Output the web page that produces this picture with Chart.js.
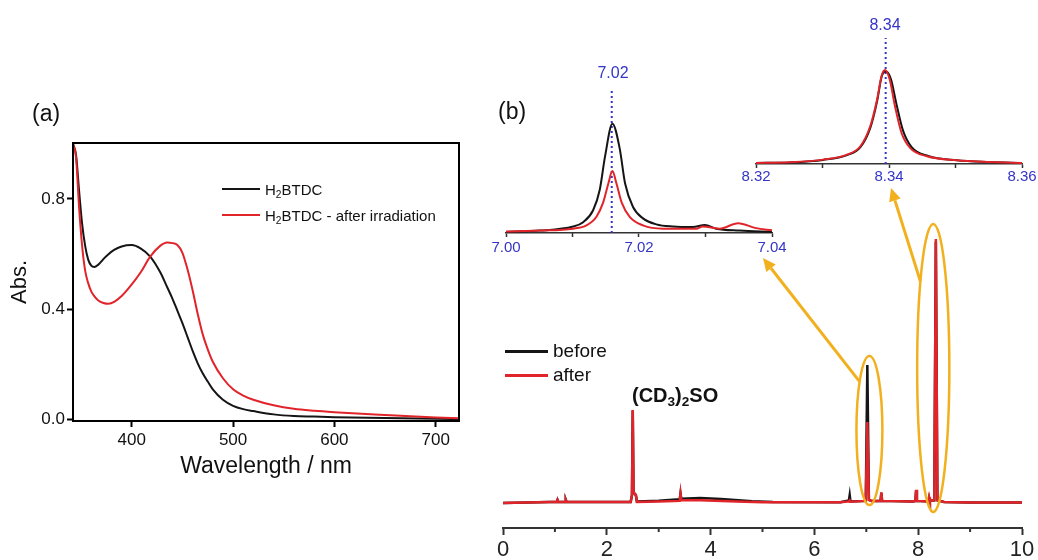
<!DOCTYPE html>
<html>
<head>
<meta charset="utf-8">
<script src="https://cdn.jsdelivr.net/npm/chart.js@4.4.1/dist/chart.umd.min.js"></script>
<style>
  html,body{margin:0;padding:0;background:#fff;}
  body{width:1038px;height:560px;position:relative;overflow:hidden;font-family:"Liberation Sans",Arial,sans-serif;color:#111;}
  canvas{position:absolute;}
  .lbl{position:absolute;line-height:1;white-space:nowrap;transform:translateY(-50%);}
  .ctr{transform:translate(-50%,-50%);}
  sub{font-size:68%;vertical-align:baseline;position:relative;top:0.32em;line-height:0;}
  .legend{position:absolute;}
  .legend .row{display:flex;align-items:center;white-space:nowrap;}
  .legend .sw{display:inline-block;}
</style>
</head>
<body>
<canvas id="uv" width="480" height="490" style="left:0;top:0"></canvas>
<canvas id="nmr" width="558" height="410" style="left:480px;top:150px"></canvas>
<canvas id="ins1" width="330" height="205" style="left:460px;top:60px"></canvas>
<canvas id="ins2" width="310" height="190" style="left:730px;top:10px"></canvas>
<canvas id="overlay" width="1038" height="560" style="left:0;top:0;pointer-events:none"></canvas>

<div class="lbl" style="left:32px;top:113px;font-size:23px">(a)</div>
<div class="lbl" style="left:498px;top:111px;font-size:23px">(b)</div>
<div class="lbl" id="dmso" style="left:632px;top:395px;font-size:20px;font-weight:bold"></div>
<div class="lbl ctr" style="left:613px;top:73px;font-size:16px;color:#3434c8">7.02</div>
<div class="lbl ctr" style="left:885px;top:25px;font-size:16px;color:#3434c8">8.34</div>
<div class="legend" id="legA" style="left:222px;top:176px"></div>
<div class="legend" id="legB" style="left:505px;top:339px"></div>

<script>
// ---- panel (a) : UV-vis ----
const wavelengths = [342, 345, 348, 351, 354, 357, 360, 363, 367, 372, 377, 383, 390, 400, 409, 418, 428, 435, 440, 445, 450, 455, 460, 465, 470, 475, 480, 490, 500, 510, 520, 540, 560, 580, 600, 650, 700, 723];
const absBefore = [1.0, 0.96, 0.83, 0.71, 0.63, 0.58, 0.558, 0.553, 0.562, 0.582, 0.60, 0.616, 0.628, 0.633, 0.62, 0.592, 0.535, 0.48, 0.44, 0.395, 0.35, 0.30, 0.25, 0.205, 0.168, 0.138, 0.11, 0.072, 0.05, 0.038, 0.031, 0.019, 0.013, 0.011, 0.009, 0.006, 0.003, 0.002];
const absAfter = [1.0, 0.95, 0.77, 0.63, 0.54, 0.495, 0.465, 0.448, 0.432, 0.423, 0.42, 0.428, 0.448, 0.49, 0.535, 0.59, 0.63, 0.642, 0.64, 0.633, 0.605, 0.545, 0.47, 0.385, 0.31, 0.255, 0.21, 0.15, 0.11, 0.087, 0.072, 0.052, 0.039, 0.032, 0.027, 0.017, 0.008, 0.005];
const uvXTicks = [400, 500, 600, 700];
const uvYTicks = [0, 0.4, 0.8];
const uvLabels = ['H2BTDC', 'H2BTDC - after irradiation'];

// ---- panel (b) : 1H NMR, full range ----
const nmrBeforePpm = [0, 0.9, 1.035, 1.05, 1.065, 1.195, 1.21, 1.225, 2.46, 2.485, 2.50, 2.515, 2.56, 2.58, 3.0, 3.405, 3.42, 3.435, 3.8, 4.2, 4.8, 5.2, 6.5, 6.665, 6.68, 6.695, 6.99, 7.02, 7.05, 7.1, 7.275, 7.29, 7.305, 7.9, 7.945, 7.96, 7.975, 8.195, 8.21, 8.225, 8.31, 8.34, 8.37, 8.5, 9.0, 10];
const nmrBeforeInt = [0, 0.004, 0.004, 0.012, 0.004, 0.004, 0.012, 0.004, 0.004, 0.03, 0.35, 0.04, 0.03, 0.006, 0.009, 0.014, 0.036, 0.016, 0.019, 0.015, 0.007, 0.004, 0.003, 0.01, 0.03, 0.006, 0.008, 0.523, 0.012, 0.008, 0.008, 0.038, 0.008, 0.006, 0.008, 0.048, 0.008, 0.006, 0.02, 0.008, 0.01, 0.99, 0.01, 0.004, 0.002, 0.002];
const nmrAfterPpm = [0, 0.9, 1.035, 1.05, 1.065, 1.195, 1.21, 1.225, 2.46, 2.485, 2.50, 2.515, 2.56, 2.58, 3.0, 3.405, 3.42, 3.435, 3.8, 4.5, 5.0, 6.5, 6.665, 6.68, 6.695, 6.99, 7.02, 7.05, 7.1, 7.275, 7.29, 7.305, 7.9, 7.945, 7.96, 7.975, 8.195, 8.21, 8.225, 8.31, 8.34, 8.37, 8.5, 9.0, 10];
const nmrAfterInt = [0, 0.004, 0.004, 0.012, 0.004, 0.004, 0.012, 0.004, 0.004, 0.03, 0.352, 0.04, 0.03, 0.004, 0.006, 0.008, 0.036, 0.01, 0.01, 0.006, 0.003, 0.003, 0.006, 0.01, 0.005, 0.008, 0.307, 0.012, 0.008, 0.008, 0.04, 0.008, 0.006, 0.008, 0.05, 0.008, 0.006, 0.022, 0.008, 0.01, 1.0, 0.01, 0.004, 0.002, 0.002];
const nmrXTicks = [0, 2, 4, 6, 8, 10];
const nmrMinor = [1, 3, 5, 7, 9];
const nmrLabels = ['before', 'after'];

// ---- inset 7.00 - 7.04 ----
const in1BeforePpm = [7.0000, 7.0051, 7.0101, 7.0116, 7.0131, 7.0141, 7.0149, 7.0160, 7.0171, 7.0179, 7.0191, 7.0206, 7.0226, 7.0251, 7.0281, 7.0299, 7.0316, 7.0351, 7.0400];
const in1BeforeInt = [0, 0.012, 0.05, 0.09, 0.2, 0.39, 0.7, 1.0, 0.77, 0.45, 0.23, 0.125, 0.07, 0.05, 0.045, 0.065, 0.03, 0.012, 0];
const in1AfterPpm = [7.0000, 7.0051, 7.0101, 7.0121, 7.0136, 7.0146, 7.0154, 7.0160, 7.0166, 7.0174, 7.0186, 7.0206, 7.0236, 7.0286, 7.0296, 7.0321, 7.0349, 7.0376, 7.0400];
const in1AfterInt = [0.005, 0.012, 0.03, 0.06, 0.14, 0.27, 0.45, 0.5625, 0.45, 0.27, 0.14, 0.06, 0.03, 0.03, 0.05, 0.03, 0.08, 0.035, 0.015];
const in1Ticks = [7.00, 7.02, 7.04];
const in1Minor = [7.01, 7.03];
const in1Mark = 7.0159;

// ---- inset 8.32 - 8.36 ----
const in2BeforePpm = [8.3200, 8.3251, 8.3301, 8.3337, 8.3357, 8.3372, 8.3382, 8.3389, 8.3396, 8.3403, 8.3411, 8.3421, 8.3434, 8.3459, 8.3502, 8.3552, 8.3600];
const in2BeforeInt = [0, 0.006, 0.033, 0.085, 0.17, 0.38, 0.66, 0.93, 0.985, 0.90, 0.64, 0.35, 0.17, 0.075, 0.03, 0.011, 0];
const in2AfterPpm = [8.3200, 8.3251, 8.3301, 8.3337, 8.3357, 8.3372, 8.3382, 8.3389, 8.3394, 8.3401, 8.3409, 8.3419, 8.3432, 8.3457, 8.3502, 8.3552, 8.3600];
const in2AfterInt = [0, 0.007, 0.036, 0.09, 0.18, 0.40, 0.68, 0.94, 1.0, 0.90, 0.61, 0.32, 0.16, 0.072, 0.029, 0.011, 0];
const in2Ticks = [8.32, 8.34, 8.36];
const in2Minor = [8.33, 8.35];
const in2Mark = 8.3395;

const BLACK = '#151515', RED = '#e0242a', BLUE = '#3434c8', GOLD = '#f2b01e';
Chart.defaults.font.family = '"Liberation Sans", Arial, sans-serif';
Chart.defaults.color = '#111';

function pts(xs, ys){ return xs.map((x, i) => ({x: x, y: ys[i]})); }
function fmt(s){ return s.replace(/([A-Z)])(\d)/g, '$1<sub>$2</sub>'); }

// minor tick marks below an x axis
const minorTicks = {
  id: 'minorTicks',
  afterDraw(chart, args, o){
    if(!o || !o.values) return;
    const s = chart.scales.x, c = chart.ctx;
    c.save(); c.strokeStyle = o.color; c.lineWidth = o.width;
    o.values.forEach(v => {
      const px = s.getPixelForValue(v);
      c.beginPath(); c.moveTo(px, s.top); c.lineTo(px, s.top + o.length); c.stroke();
    });
    c.restore();
  }
};
// box around plot area (panel a)
const frame = {
  id: 'frame',
  afterDraw(chart){
    const a = chart.chartArea, c = chart.ctx;
    c.save(); c.strokeStyle = '#000'; c.lineWidth = 2;
    c.strokeRect(a.left, a.top, a.right - a.left, a.bottom - a.top);
    c.restore();
  }
};

const base = {
  responsive: false, animation: false, devicePixelRatio: 1, events: [],
  plugins: { legend: { display: false }, tooltip: { enabled: false } }
};

// ---- chart (a) ----
const uvChart = new Chart(document.getElementById('uv'), {
  type: 'line',
  data: { datasets: [
    { label: uvLabels[0], data: pts(wavelengths, absBefore), borderColor: BLACK, borderWidth: 2, pointRadius: 0, cubicInterpolationMode: 'monotone', order: 1 },
    { label: uvLabels[1], data: pts(wavelengths, absAfter), borderColor: RED, borderWidth: 2, pointRadius: 0, cubicInterpolationMode: 'monotone', order: 0 }
  ]},
  options: Object.assign({}, base, {
    layout: { padding: { top: 143, right: 21, left: 0, bottom: 0 } },
    scales: {
      x: {
        type: 'linear', min: 342, max: 723,
        afterBuildTicks: s => { s.ticks = uvXTicks.map(v => ({ value: v })); },
        afterFit: s => { s.height = 69; },
        grid: { drawOnChartArea: false, drawTicks: true, tickLength: 6, tickColor: '#000', tickWidth: 2 },
        border: { display: true, color: '#000', width: 2 },
        ticks: { font: { size: 17 }, padding: 3, maxRotation: 0, callback: v => v },
        title: { display: true, text: 'Wavelength / nm', font: { size: 23 }, padding: { top: 0, bottom: 10 } }
      },
      y: {
        type: 'linear', min: -0.005, max: 1.003,
        afterBuildTicks: s => { s.ticks = uvYTicks.map(v => ({ value: v })); },
        afterFit: s => { s.width = 73; },
        grid: { drawOnChartArea: false, drawTicks: true, tickLength: 6, tickColor: '#000', tickWidth: 2 },
        border: { display: true, color: '#000', width: 2 },
        ticks: { font: { size: 17 }, padding: 2, callback: v => v.toFixed(1) },
        title: { display: true, text: 'Abs.', font: { size: 22 }, padding: { top: 7, bottom: 0 } }
      }
    }
  }),
  plugins: [frame]
});

// ---- chart (b) main spectrum ----
function nmrXAxis(opts){
  return {
    type: 'linear', min: opts.min, max: opts.max,
    afterBuildTicks: s => { s.ticks = opts.ticks.map(v => ({ value: v })); },
    afterFit: s => { s.height = opts.h; },
    grid: { drawOnChartArea: false, drawTicks: true, tickLength: opts.tl, tickColor: '#333', tickWidth: opts.bw },
    border: { display: true, color: '#333', width: opts.bw },
    ticks: { font: { size: opts.fs }, color: opts.color, padding: opts.pad, maxRotation: 0, callback: opts.cb }
  };
}

const nmrChart = new Chart(document.getElementById('nmr'), {
  type: 'line',
  data: { datasets: [
    { label: nmrLabels[0], data: pts(nmrBeforePpm, nmrBeforeInt), borderColor: BLACK, borderWidth: 2.5, pointRadius: 0, tension: 0, order: 1 },
    { label: nmrLabels[1], data: pts(nmrAfterPpm, nmrAfterInt), borderColor: RED, borderWidth: 2.5, pointRadius: 0, tension: 0, order: 0 }
  ]},
  options: Object.assign({}, base, {
    layout: { padding: { top: 60, right: 16, left: 23, bottom: 0 } },
    plugins: Object.assign({}, base.plugins, { minorTicks: { values: nmrMinor, length: 4, color: '#333', width: 2 } }),
    scales: {
      x: nmrXAxis({ min: 0, max: 10, ticks: nmrXTicks, h: 32, tl: 7, bw: 2, fs: 22, color: '#222', pad: 2, cb: v => v }),
      y: { display: false, min: -0.0947, max: 1.11 }
    }
  }),
  plugins: [minorTicks]
});

// ---- insets ----
function inset(id, cfg){
  return new Chart(document.getElementById(id), {
    type: 'line',
    data: { datasets: [
      { data: [{ x: cfg.mark, y: cfg.ymin }, { x: cfg.mark, y: cfg.ymax }], borderColor: BLUE, borderWidth: 2, borderDash: [2, 3], pointRadius: 0, order: 2 },
      { label: nmrLabels[0], data: pts(cfg.bx, cfg.by), borderColor: BLACK, borderWidth: 2, pointRadius: 0, cubicInterpolationMode: 'monotone', order: 1 },
      { label: nmrLabels[1], data: pts(cfg.ax, cfg.ay), borderColor: RED, borderWidth: 2, pointRadius: 0, cubicInterpolationMode: 'monotone', order: 0 }
    ]},
    options: Object.assign({}, base, {
      layout: { padding: cfg.padding },
      plugins: Object.assign({}, base.plugins, { minorTicks: { values: cfg.minor, length: 4, color: '#333', width: 1.5 } }),
      scales: {
        x: nmrXAxis({ min: cfg.ticks[0], max: cfg.ticks[cfg.ticks.length - 1], ticks: cfg.ticks, h: cfg.h, tl: 4, bw: 1.5, fs: 15, color: BLUE, pad: cfg.pad, cb: v => v.toFixed(2) }),
        y: { display: false, min: cfg.ymin, max: cfg.ymax }
      }
    }),
    plugins: [minorTicks]
  });
}

const in1Chart = inset('ins1', { bx: in1BeforePpm, by: in1BeforeInt, ax: in1AfterPpm, ay: in1AfterInt, ticks: in1Ticks, minor: in1Minor, mark: in1Mark,
  ymin: -0.01, ymax: 1.33, padding: { top: 28, right: 18, left: 46, bottom: 0 }, h: 32, pad: 2 });
const in2Chart = inset('ins2', { bx: in2BeforePpm, by: in2BeforeInt, ax: in2AfterPpm, ay: in2AfterInt, ticks: in2Ticks, minor: in2Minor, mark: in2Mark,
  ymin: -0.011, ymax: 1.344, padding: { top: 28, right: 18, left: 26, bottom: 0 }, h: 36, pad: 0 });

// ---- legends (html, built from datasets) ----
function buildLegend(chart, el, o){
  chart.data.datasets.forEach(ds => {
    if(!ds.label) return;
    const row = document.createElement('div');
    row.className = 'row';
    row.style.height = o.rowH + 'px';
    row.innerHTML = '<span class="sw" style="width:' + o.sw + 'px;height:' + o.lw + 'px;background:' + ds.borderColor + '"></span>' +
      '<span style="margin-left:' + o.gap + 'px;font-size:' + o.size + 'px">' + fmt(ds.label) + '</span>';
    el.appendChild(row);
  });
}
buildLegend(uvChart, document.getElementById('legA'), { rowH: 26, sw: 38, lw: 2, gap: 5, size: 15 });
buildLegend(nmrChart, document.getElementById('legB'), { rowH: 24, sw: 43, lw: 3, gap: 5, size: 19 });
document.getElementById('dmso').innerHTML = fmt('(CD3)2SO');

// ---- zoom ellipses + arrows pointing at the insets ----
const zoomMarks = [
  { ppm: 7.06, halfWidth: 0.25, top: 0.557, bottom: -0.008, tailDeg: 221, tip: [763, 258] },
  { ppm: 8.29, halfWidth: 0.31, top: 1.057, bottom: -0.034, tailDeg: 217, tip: [891, 188] }
];
const ov = document.getElementById('overlay').getContext('2d');
const nx = nmrChart.scales.x, ny = nmrChart.scales.y;
const NMR_LEFT = 480, NMR_TOP = 150;
ov.strokeStyle = GOLD; ov.fillStyle = GOLD;
zoomMarks.forEach(m => {
  const cx = NMR_LEFT + nx.getPixelForValue(m.ppm);
  const rx = nx.getPixelForValue(m.ppm + m.halfWidth) - nx.getPixelForValue(m.ppm);
  const yT = NMR_TOP + ny.getPixelForValue(m.top), yB = NMR_TOP + ny.getPixelForValue(m.bottom);
  const cy = (yT + yB) / 2, ry = (yB - yT) / 2;
  ov.lineWidth = 2.5;
  ov.beginPath(); ov.ellipse(cx, cy, rx, ry, 0, 0, Math.PI * 2); ov.stroke();
  const t = m.tailDeg * Math.PI / 180;
  const tx = cx + rx * Math.cos(t), ty = cy + ry * Math.sin(t);
  const [hx, hy] = m.tip;
  const ang = Math.atan2(hy - ty, hx - tx), L = 13, W = 6;
  const bx = hx - L * Math.cos(ang), by = hy - L * Math.sin(ang);
  ov.lineWidth = 3;
  ov.beginPath(); ov.moveTo(tx, ty); ov.lineTo(bx, by); ov.stroke();
  ov.beginPath();
  ov.moveTo(hx, hy);
  ov.lineTo(bx + W * Math.sin(ang), by - W * Math.cos(ang));
  ov.lineTo(bx - W * Math.sin(ang), by + W * Math.cos(ang));
  ov.closePath(); ov.fill();
});
</script>
</body>
</html>
